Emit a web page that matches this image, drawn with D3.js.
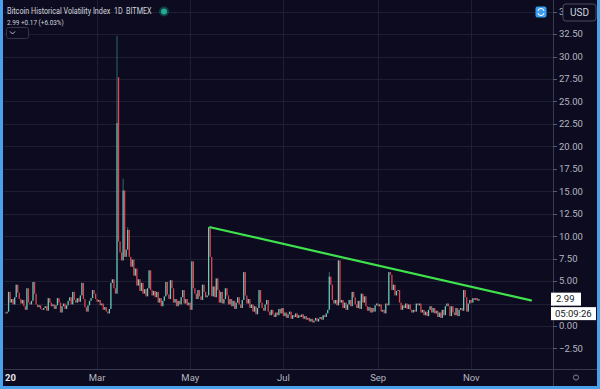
<!DOCTYPE html>
<meta charset="utf-8">
<script src="https://d3js.org/d3.v7.min.js"></script>
<style>
  body { margin: 0; background: #0c0b1f; }
  svg { display: block; font-family: Roboto, "Noto Sans", sans-serif; }
</style>
<div id="my_dataviz"></div>
<script>

// daily candles from 1 Jan 2020, close values
var startDate = Date.UTC(2020, 0, 1);
var closeValues = [
  1.4, 1.6, 3.8, 2.6, 3.0, 2.4, 3.2, 4.6, 3.7, 3.0,
  2.5, 2.9, 2.2, 1.8, 4.2, 2.6, 2.4, 2.8, 4.9, 3.6,
  2.4, 2.1, 2.3, 1.9, 1.8, 2.0, 2.2, 1.7, 3.1, 2.6,
  2.2, 2.4, 1.9, 2.3, 3.1, 2.6, 1.5, 2.2, 2.5, 1.9,
  2.3, 2.8, 3.2, 2.4, 3.8, 2.9, 2.6, 3.1, 2.7, 3.4,
  4.8, 3.0, 2.1, 1.6, 2.3, 2.8, 3.1, 4.0, 3.6, 3.0,
  2.7, 2.9, 2.3, 2.5, 1.8, 2.1, 1.6, 1.4, 1.9, 4.8,
  5.2, 4.2, 3.6, 22.6, 9.4, 8.2, 7.3, 15.1, 7.7, 8.5,
  10.7, 7.7, 6.6, 7.4, 5.6, 6.4, 4.5, 5.2, 3.9, 4.8,
  3.6, 4.1, 3.3, 4.2, 6.2, 4.0, 3.4, 3.9, 3.2, 3.8,
  2.6, 3.1, 2.2, 2.8, 3.3, 4.9, 3.5, 3.0, 5.1, 4.2,
  2.6, 3.0, 2.2, 2.8, 2.4, 3.2, 4.0, 2.5, 3.0, 2.3,
  2.6, 1.8, 7.2, 4.2, 3.6, 3.0, 4.0, 3.3, 2.9, 4.6,
  3.8, 3.2, 3.4, 11.0, 7.7, 3.3, 4.4, 3.2, 5.3, 4.0,
  2.6, 3.8, 2.5, 3.0, 4.2, 3.4, 2.4, 3.0, 2.2, 2.8,
  1.9, 2.6, 3.2, 2.4, 2.0, 2.9, 6.0, 3.4, 2.5, 3.0,
  2.0, 2.4, 1.6, 2.2, 1.3, 2.0, 4.0, 2.6, 2.0, 1.7,
  2.4, 2.9, 1.6, 1.2, 1.8, 1.3, 1.0, 1.5, 1.2, 1.9,
  1.4, 2.0, 1.1, 1.5, 0.9, 1.3, 1.6, 0.8, 1.2, 1.0,
  1.4, 0.9, 1.2, 1.0, 1.3, 0.8, 1.1, 0.7, 0.9, 0.5,
  0.8, 0.4, 0.6, 0.9, 0.5, 0.8, 1.0, 0.7, 1.2, 1.0,
  1.4, 1.8, 5.5, 4.6, 2.9, 2.5, 2.9, 2.3, 7.3, 2.6,
  2.9, 2.0, 2.6, 1.8, 2.4, 2.9, 2.2, 3.8, 3.2, 2.4,
  2.0, 2.8, 1.9, 3.6, 2.6, 3.3, 2.2, 1.7, 2.1, 1.5,
  2.0, 1.6, 2.3, 2.5, 2.2, 2.4, 1.6, 1.8, 1.4, 2.5,
  2.3, 6.0, 5.7, 4.0, 4.6, 3.4, 3.9, 4.0, 2.6, 1.8,
  2.3, 2.0, 2.5, 1.9, 2.4, 1.8, 1.5, 1.8, 1.6, 2.5,
  2.3, 2.5, 1.5, 1.8, 1.2, 1.6, 1.1, 1.8, 2.2, 1.5,
  2.0, 1.4, 1.7, 1.0, 1.5, 0.9, 1.8, 1.2, 2.2, 2.5,
  2.2, 1.1, 2.2, 1.5, 1.2, 2.0, 1.1, 1.8, 2.0, 1.7,
  4.0, 3.2, 1.6, 2.5, 2.9, 2.6, 3.1, 2.9, 3.1, 2.82,
  2.99
];
// days whose open gaps away from the previous close
var gapOpens = {0: 1.5, 74: 27.7};
// days with a visible upper wick
var highValues = {73: 32.3, 77: 16.4, 80: 11.0, 212: 6.0};

// trend line drawn on the chart
var trendDates = ["2020-05-14", "2020-12-10"];
var trendValues = [11.0, 2.85];

var timeTickDates = ["2020-01-01", "2020-03-01", "2020-05-01", "2020-07-01", "2020-09-01", "2020-11-01"];
var timeTickLabels = ["20", "Mar", "May", "Jul", "Sep", "Nov"];
var priceTicks = [-2.5, 0, 2.5, 5, 7.5, 10, 12.5, 15, 17.5, 20, 22.5, 25, 27.5, 30, 32.5, 35];

var W = 600, H = 389;
var plotLeft = 4, plotRight = 553, plotTop = 0, plotBottom = 369;

var svg = d3.select("#my_dataviz")
  .append("svg")
    .attr("width", W)
    .attr("height", H);

svg.append("rect").attr("width", W).attr("height", H).attr("fill", "#0c0b1f");

var x = d3.scaleUtc()
  .domain([new Date(Date.UTC(2019, 11, 31)), new Date(Date.UTC(2020, 11, 24, 12))])
  .range([plotLeft, plotRight]);

var y = d3.scaleLinear()
  .domain([-4.79, 36.3])
  .range([plotBottom, plotTop]);

var data = closeValues.map(function(c, i) {
  var o = gapOpens[i] !== undefined ? gapOpens[i] : (i > 0 ? closeValues[i - 1] : c);
  var hi = highValues[i] !== undefined ? highValues[i] : Math.max(o, c);
  return { date: new Date(startDate + i * 864e5), open: o, close: c, high: hi, low: Math.min(o, c) };
});
var last = data[data.length - 1];

// grid
var grid = svg.append("g").attr("stroke", "#1e1e34").attr("stroke-width", 1);
grid.selectAll("line.h")
  .data(priceTicks)
  .enter().append("line")
    .attr("x1", plotLeft).attr("x2", plotRight)
    .attr("y1", function(d) { return Math.round(y(d)) + 0.5; })
    .attr("y2", function(d) { return Math.round(y(d)) + 0.5; });
grid.selectAll("line.v")
  .data(timeTickDates.slice(1))
  .enter().append("line")
    .attr("y1", plotTop).attr("y2", plotBottom)
    .attr("x1", function(d) { return Math.round(x(new Date(d))) + 0.5; })
    .attr("x2", function(d) { return Math.round(x(new Date(d))) + 0.5; });

// candles
var upColor = "#6ccabd", downColor = "#e2464f";
var candles = svg.append("g");
candles.selectAll("line")
  .data(data.filter(function(d) { return d.high > Math.max(d.open, d.close); }))
  .enter().append("line")
    .attr("x1", function(d) { return x(d.date); })
    .attr("x2", function(d) { return x(d.date); })
    .attr("y1", function(d) { return y(d.high); })
    .attr("y2", function(d) { return y(Math.max(d.open, d.close)); })
    .attr("stroke", function(d) { return d.close >= d.open ? "#3f8f8c" : downColor; })
    .attr("stroke-width", 0.7);
candles.selectAll("rect")
  .data(data)
  .enter().append("rect")
    .attr("x", function(d) { return x(d.date) - 0.65; })
    .attr("width", 1.3)
    .attr("y", function(d) { return y(Math.max(d.open, d.close)); })
    .attr("height", function(d) { return Math.max(0.8, y(Math.min(d.open, d.close)) - y(Math.max(d.open, d.close))); })
    .attr("fill", function(d) { return d.close >= d.open ? upColor : downColor; });

// trend line
svg.append("line")
  .attr("x1", x(new Date(trendDates[0]))).attr("y1", y(trendValues[0]))
  .attr("x2", x(new Date(trendDates[1]))).attr("y2", y(trendValues[1]))
  .attr("stroke", "#3fe24c")
  .attr("stroke-width", 2.2)
  .attr("stroke-linecap", "round");

// price axis
svg.append("line")
  .attr("x1", plotRight + 0.5).attr("x2", plotRight + 0.5)
  .attr("y1", 0).attr("y2", 386)
  .attr("stroke", "#3a3a4e");
// labels under the last value boxes are hidden, as the platform does
var shownTicks = priceTicks.filter(function(d) {
  return y(d) < y(last.close) - 12 || y(d) > y(last.close) + 24;
});
var pAxis = svg.append("g");
pAxis.selectAll("line")
  .data(priceTicks)
  .enter().append("line")
    .attr("x1", plotRight).attr("x2", plotRight + 4)
    .attr("y1", function(d) { return Math.round(y(d)) + 0.5; })
    .attr("y2", function(d) { return Math.round(y(d)) + 0.5; })
    .attr("stroke", "#5a5a6e");
pAxis.selectAll("text")
  .data(shownTicks)
  .enter().append("text")
    .attr("x", plotRight + 6)
    .attr("y", function(d) { return y(d); })
    .attr("dy", "0.35em")
    .attr("fill", "#b4b6c0")
    .attr("font-size", 9.5)
    .text(function(d) { return d3.format(".2f")(d); });

// time axis
svg.append("line")
  .attr("x1", plotLeft).attr("x2", 597)
  .attr("y1", plotBottom + 0.5).attr("y2", plotBottom + 0.5)
  .attr("stroke", "#3a3a4e");
svg.selectAll("text.t")
  .data(timeTickDates)
  .enter().append("text")
    .attr("class", "t")
    .attr("x", function(d, i) { return i === 0 ? plotLeft + 1 : x(new Date(d)); })
    .attr("y", 381)
    .attr("text-anchor", function(d, i) { return i === 0 ? "start" : "middle"; })
    .attr("fill", function(d, i) { return i === 0 ? "#e6e7ec" : "#b4b6c0"; })
    .attr("font-weight", function(d, i) { return i === 0 ? "bold" : "normal"; })
    .attr("font-size", 9.5)
    .text(function(d, i) { return timeTickLabels[i]; });
svg.append("circle")
  .attr("cx", 576).attr("cy", 377.5).attr("r", 2.6)
  .attr("fill", "none").attr("stroke", "#8a8c96").attr("stroke-width", 0.9);

// last value labels
svg.append("rect")
  .attr("x", 551).attr("y", y(last.close) - 6.5).attr("width", 30).attr("height", 13)
  .attr("fill", "#ffffff");
svg.append("text")
  .attr("x", 556).attr("y", y(last.close)).attr("dy", "0.35em")
  .attr("font-size", 9.5).attr("fill", "#131722")
  .text(d3.format(".2f")(last.close));
svg.append("rect")
  .attr("x", 551).attr("y", y(last.close) + 8).attr("width", 45).attr("height", 13)
  .attr("fill", "#ffffff");
svg.append("text")
  .attr("x", 555).attr("y", y(last.close) + 14.5).attr("dy", "0.35em")
  .attr("font-size", 9.5).attr("fill", "#131722")
  .text("05:09:26");

// top right controls (the 35.00 label peeks out from under the currency box)
svg.append("rect")
  .attr("x", 563).attr("y", 4).attr("width", 33).attr("height", 17).attr("rx", 3)
  .attr("fill", "#0c0b1f").attr("stroke", "#4a4a5e");
svg.append("text")
  .attr("x", 579.5).attr("y", 12.5).attr("dy", "0.35em").attr("text-anchor", "middle")
  .attr("font-size", 10).attr("fill", "#d1d4dc").text("USD");
svg.append("rect")
  .attr("x", 535.5).attr("y", 6.5).attr("width", 11).attr("height", 11).attr("rx", 2)
  .attr("fill", "#3a9bf0");
svg.append("path")
  .attr("d", "M538 11 a3 2.5 0 0 1 6 0 M544 13 a3 2.5 0 0 1 -6 0")
  .attr("fill", "none").attr("stroke", "#ffffff").attr("stroke-width", 1);

// legend, squeezed horizontally to the platform's narrower UI font
var legend = svg.append("g").attr("fill", "#d1d4dc").attr("font-size", 8.5);
legend.append("text").attr("transform", "translate(7,14) scale(0.85,1)")
  .text("Bitcoin Historical Volatility Index");
legend.append("text").attr("transform", "translate(114,14) scale(0.85,1)").text("1D");
legend.append("text").attr("transform", "translate(126,14) scale(0.85,1)").text("BITMEX");
svg.append("circle").attr("cx", 164).attr("cy", 11.5).attr("r", 5).attr("fill", "#22ab94").attr("opacity", 0.3);
svg.append("circle").attr("cx", 164).attr("cy", 11.5).attr("r", 3).attr("fill", "#22ab94");
legend.append("text").attr("transform", "translate(7,25) scale(0.85,1)").attr("font-size", 7.5)
  .text("2.99  +0.17 (+6.03%)");
svg.append("rect")
  .attr("x", 6.5).attr("y", 27.5).attr("width", 22).attr("height", 11).attr("rx", 2)
  .attr("fill", "#0c0b1f").attr("stroke", "#34344a");
svg.append("path")
  .attr("d", "M10 31.5 l2.5 2.5 l2.5 -2.5")
  .attr("fill", "none").attr("stroke", "#d1d4dc").attr("stroke-width", 0.9);
legend.append("text").attr("x", 17).attr("y", 36).attr("font-size", 7.5).text("10");

// frame
var frame = svg.append("g").attr("fill", "#4aa3ea");
frame.append("rect").attr("x", 0).attr("y", 0).attr("width", 3).attr("height", H);
frame.append("rect").attr("x", W - 3).attr("y", 0).attr("width", 3).attr("height", H);
frame.append("rect").attr("x", 0).attr("y", H - 3).attr("width", W).attr("height", 3);

</script>
